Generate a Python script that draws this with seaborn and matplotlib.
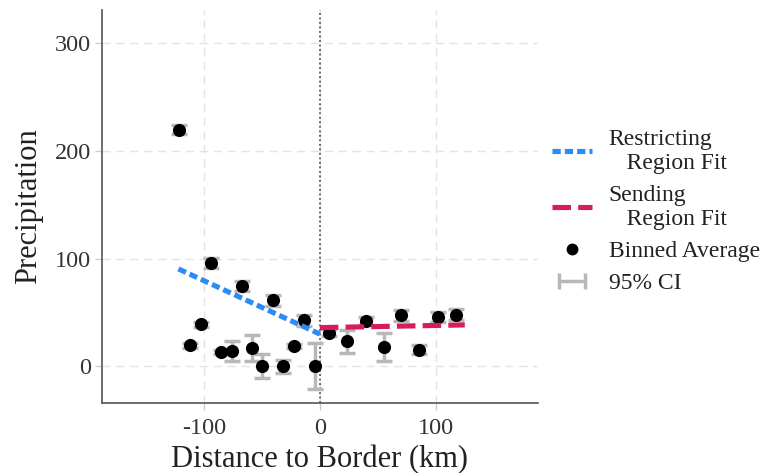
import numpy as np
import pandas as pd
import matplotlib
matplotlib.use("Agg")
import matplotlib.pyplot as plt
import seaborn as sns
from matplotlib.lines import Line2D
from matplotlib.legend_handler import HandlerLine2D

# ---- data ----
bin_x = [-121.5, -112.3, -102.9, -93.7, -85.0, -76.0, -67.5, -58.9, -49.7, -40.8,
         -31.6, -22.4, -13.8, -4.3,
         7.8, 23.5, 39.4, 55.2, 70.4, 85.9, 101.7, 117.2]
bin_y = [219.8, 19.5, 39.0, 96.0, 13.3, 14.2, 74.6, 17.3, 0.3, 61.3,
         0.3, 19.2, 42.7, 0.3,
         31.3, 23.2, 42.0, 18.0, 47.4, 15.5, 45.8, 48.0]
ci_half = [4, 2, 2, 5, 2, 9, 5, 12, 11, 5,
           6, 2, 5, 21,
           3, 11, 4, 13, 5, 4, 5, 5]

restrict_x = [-122, 0]
restrict_y = [90.5, 30.0]
send_x = [0, 125]
send_y = [36.0, 38.5]

x_ticks = [-100, 0, 100]
y_ticks = [0, 100, 200, 300]

BLUE = "#2b8cf6"
PINK = "#d81b60"
GREYCI = "#b8b8b8"
BLUE_DASH = (0, (1.6, 0.8))
PINK_DASH = (0, (3.6, 1.4))

sns.set_theme(style="white")
plt.rcParams['font.family'] = ['Liberation Serif', 'DejaVu Serif']

fig = plt.figure(figsize=(7.84, 4.73), dpi=100)
ax = fig.add_axes([0.130, 0.148, 0.556, 0.831])

bins = pd.DataFrame({"x": bin_x, "y": bin_y, "ci": ci_half})
rfit = pd.DataFrame({"x": restrict_x, "y": restrict_y})
sfit = pd.DataFrame({"x": send_x, "y": send_y})

ax.axvline(0, color="#555555", ls=(0, (1, 1.5)), lw=1.3, zorder=1)

ax.errorbar(bins["x"], bins["y"], yerr=bins["ci"], fmt="none",
            ecolor=GREYCI, elinewidth=2.5, capsize=5.5, capthick=2.5, zorder=2)
sns.scatterplot(data=bins, x="x", y="y", ax=ax, color="black", s=90,
                edgecolor="black", linewidth=0, zorder=3, legend=False)
sns.lineplot(data=rfit, x="x", y="y", ax=ax, color=BLUE, lw=3.7,
             zorder=4, legend=False)
ax.lines[-1].set_linestyle(BLUE_DASH)
sns.lineplot(data=sfit, x="x", y="y", ax=ax, color=PINK, lw=3.7,
             zorder=4, legend=False)
ax.lines[-1].set_linestyle(PINK_DASH)

ax.set_xlim(-188, 188)
ax.set_ylim(-34, 331)
ax.set_xticks(x_ticks)
ax.set_xticklabels([str(v) for v in x_ticks])
ax.set_yticks(y_ticks)
ax.grid(True, color="#e4e4e4", ls=(0, (6, 4)), lw=1)
ax.set_axisbelow(True)
for s in ["top", "right"]:
    ax.spines[s].set_visible(False)
for s in ["left", "bottom"]:
    ax.spines[s].set_color("#555555")
    ax.spines[s].set_linewidth(1.2)
ax.tick_params(axis="both", which="major", length=5, width=1, color="#cccccc",
               labelsize=17.5, labelcolor="#333333", direction="out", bottom=True, left=True,
               pad=3)
ax.tick_params(axis="x", pad=6)
ax.set_xlabel("Distance to Border (km)", fontsize=22, color="#222222", labelpad=4)
ax.set_ylabel("Precipitation", fontsize=22, color="#222222", labelpad=8)

ci_handle = Line2D([0], [0], color=GREYCI, lw=2.5, marker="|", markersize=11, mew=2.5)
handles = [
    Line2D([0], [0], color=BLUE, lw=3.7, ls=BLUE_DASH),
    Line2D([0], [0], color=PINK, lw=3.7, ls=PINK_DASH),
    Line2D([0], [0], color="black", marker="o", ls="none", markersize=7.5),
    ci_handle,
]
labels = ["Restricting\n   Region Fit", "Sending\n   Region Fit", "Binned Average", "95% CI"]
fig.legend(handles, labels, loc="upper left", bbox_to_anchor=(0.677, 0.772),
           frameon=False, fontsize=17, handlelength=1.7, handletextpad=0.7,
           labelspacing=0.45, labelcolor="#222222",
           handler_map={ci_handle: HandlerLine2D(numpoints=2)})

fig.savefig("out.png", dpi=100)
